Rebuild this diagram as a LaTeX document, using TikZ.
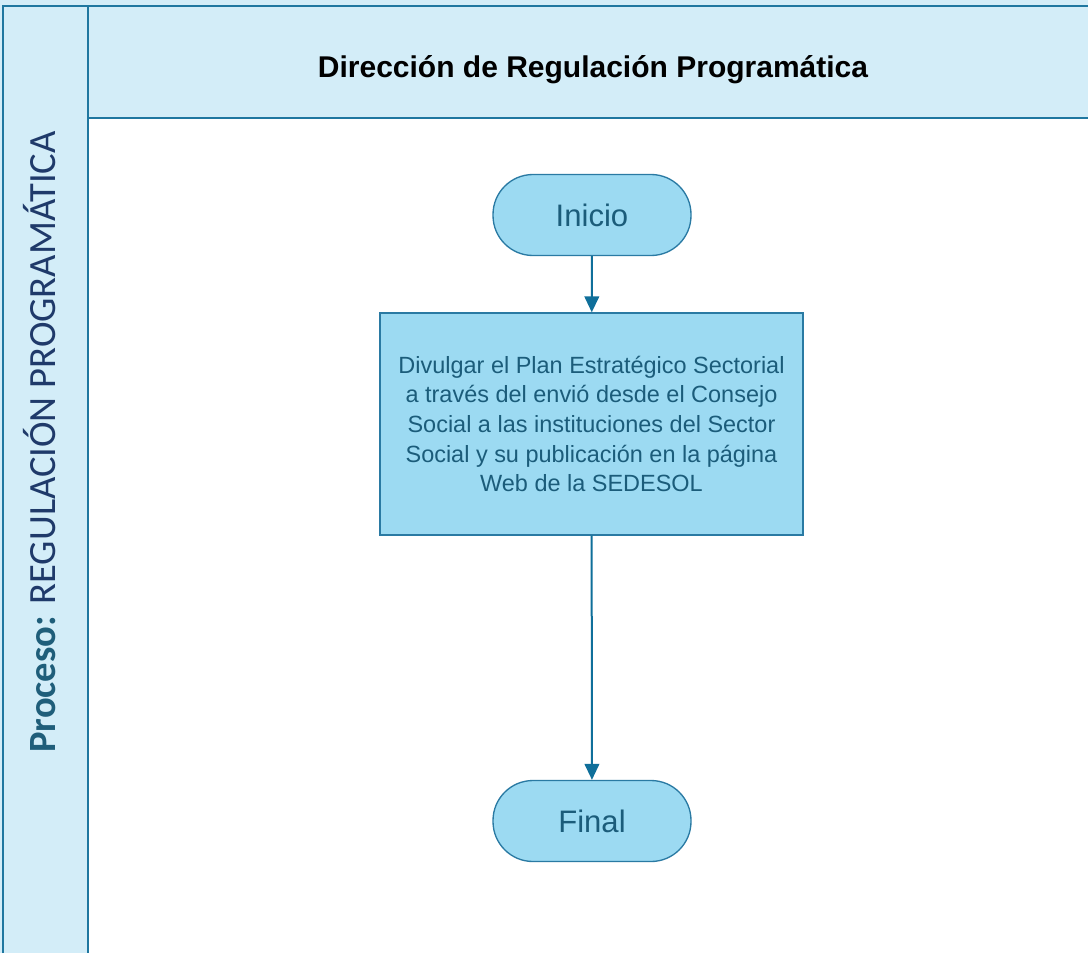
\documentclass[tikz,border=0pt]{standalone}
\usepackage{fontspec}
\setmainfont{Liberation Sans}
\newfontfamily\lanefont{Carlito}
\usetikzlibrary{arrows.meta}
\usetikzlibrary{positioning}
\definecolor{poolfill}{HTML}{D3EDF8}
\definecolor{poolline}{HTML}{1F77A0}
\definecolor{stepfill}{HTML}{9CDAF2}
\definecolor{stepline}{HTML}{2A7AA3}
\definecolor{steptext}{HTML}{1B5C7A}
\definecolor{flowline}{HTML}{0F6F9A}
\definecolor{laneteal}{HTML}{1F5E7A}
\definecolor{lanenavy}{HTML}{1F3A6A}
\tikzstyle{terminal}=[rectangle,rounded corners=30pt,fill=stepfill,draw=stepline,line width=1pt,minimum width=148.5pt,minimum height=60.75pt,text=steptext,font=\fontsize{23.3}{27}\selectfont]
\tikzstyle{stepbox}=[rectangle,fill=stepfill,draw=stepline,line width=1pt,minimum width=317.25pt,minimum height=166.5pt,text=steptext,align=center,font=\fontsize{17.6}{22.3}\selectfont]
\tikzstyle{flow} = [draw=flowline,line width=1.5pt,-{Triangle[length=12pt,width=11pt]}]
\tikzstyle{poolborder} = [draw=poolline,line width=1.6pt]

\begin{document}
\begin{tikzpicture}[x=0.75pt,y=-0.75pt]
    \useasboundingbox (0,0) rectangle (1088,953);

    % pool and lane
    \fill[poolfill] (0,0) rectangle (1088,118);
    \fill[poolfill] (0,0) rectangle (88,953);
    \draw[poolborder] (3,953) -- (3,6) -- (1088,6);
    \draw[poolborder] (88,6) -- (88,953);
    \draw[poolborder] (88,118) -- (1088,118);

    \node (lanetitle) at (593,70) {\fontsize{22.5}{26}\selectfont\bfseries Dirección de Regulación Programática};
    \node[rotate=90,anchor=base,inner sep=0pt] (processlabel) at (55,442)
        {\lanefont\fontsize{28.9}{32}\selectfont\textcolor{laneteal}{\bfseries Proceso:} \textcolor{lanenavy}{REGULACIÓN PROGRAMÁTICA}};

    % steps
    \node[terminal] (inicio) at (592,215) {Inicio};
    \node[stepbox] (divulgar) at (591.5,424) {Divulgar el Plan Estratégico Sectorial\\a través del envió desde el Consejo\\Social a las instituciones del Sector\\Social y su publicación en la página\\Web de la SEDESOL};
    \node[terminal] (final) at (592,821) {Final};

    \path[flow] (inicio) -- (divulgar);
    \path[flow] (divulgar) -- (final);

\end{tikzpicture}
\end{document}
